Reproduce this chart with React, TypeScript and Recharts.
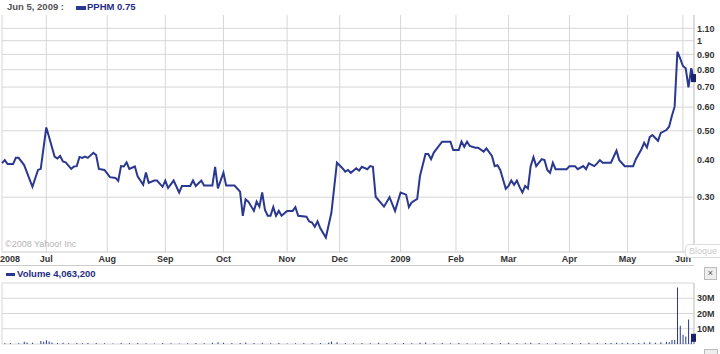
import React from "react";
import {
  LineChart,
  Line,
  BarChart,
  Bar,
  XAxis,
  YAxis,
  CartesianGrid,
  ReferenceLine,
  ReferenceDot,
} from "recharts";

// trading-day index of each month start (first tick is the left edge, labelled with the year)
const monthTicks = [2, 18, 40, 61, 82, 105, 124, 146, 166, 185, 207, 228, 248];
const monthLabels = ["2008", "Jul", "Aug", "Sep", "Oct", "Nov", "Dec", "2009", "Feb", "Mar", "Apr", "May", "Jun"];

const priceTicks = [0.3, 0.4, 0.5, 0.6, 0.7, 0.8, 0.9, 1, 1.1];
const priceGridLevels = [0.3, 0.5, 0.6, 0.7, 0.8, 0.9, 1, 1.1];
const volumeTicks = [0, 10, 20, 30, 40];

const priceDays = [
  2, 3, 4, 6, 7, 8, 10, 13, 15, 16, 18, 19, 21, 22, 23, 24, 25, 27, 28, 29,
  30, 31, 32, 33, 35, 36, 37, 39, 41, 43, 44, 45, 46, 47, 48, 50, 51, 53, 54, 55,
  57, 58, 60, 61, 62, 64, 66, 67, 70, 71, 72, 74, 75, 78, 79, 80, 82, 83, 86, 88,
  89, 90, 91, 93, 94, 95, 96, 97, 98, 99, 100, 101, 102, 103, 105, 107, 108, 109, 112, 113,
  114, 115, 116, 117, 119, 121, 123, 125, 126, 127, 128, 130, 131, 132, 134, 135, 136, 137, 140, 142,
  144, 146, 148, 149, 150, 152, 153, 155, 156, 157, 158, 161, 164, 165, 167, 168, 169, 170, 171, 173,
  174, 176, 177, 179, 180, 181, 182, 184, 185, 186, 187, 188, 189, 190, 191, 192, 193, 194, 195, 197,
  198, 199, 200, 201, 202, 206, 207, 209, 210, 212, 213, 214, 216, 217, 218, 219, 222, 224, 225, 227,
  230, 231, 233, 234, 235, 236, 237, 239, 240, 242, 243, 244, 245, 246, 247, 248, 249, 250, 251, 252,
];
const prices = [
  0.39, 0.399, 0.387, 0.387, 0.406, 0.406, 0.384, 0.325, 0.37, 0.373, 0.513, 0.477, 0.41, 0.404, 0.412, 0.395, 0.392, 0.373, 0.38, 0.381,
  0.409, 0.406, 0.41, 0.406, 0.422, 0.415, 0.373, 0.37, 0.35, 0.348, 0.34, 0.381, 0.38, 0.392, 0.373, 0.38, 0.352, 0.33, 0.363, 0.335,
  0.341, 0.341, 0.325, 0.341, 0.322, 0.341, 0.311, 0.327, 0.327, 0.341, 0.327, 0.341, 0.328, 0.328, 0.379, 0.321, 0.362, 0.328, 0.328, 0.313,
  0.26, 0.295, 0.29, 0.27, 0.29, 0.279, 0.311, 0.272, 0.26, 0.26, 0.278, 0.26, 0.27, 0.26, 0.27, 0.27, 0.278, 0.26, 0.258, 0.249,
  0.247, 0.239, 0.249, 0.236, 0.22, 0.266, 0.391, 0.375, 0.365, 0.37, 0.362, 0.375, 0.368, 0.379, 0.372, 0.381, 0.379, 0.301, 0.279, 0.3,
  0.27, 0.311, 0.306, 0.278, 0.288, 0.296, 0.353, 0.418, 0.418, 0.402, 0.423, 0.46, 0.46, 0.431, 0.431, 0.46, 0.442, 0.46, 0.445, 0.439,
  0.439, 0.426, 0.437, 0.412, 0.381, 0.384, 0.37, 0.32, 0.327, 0.341, 0.33, 0.341, 0.324, 0.311, 0.327, 0.321, 0.381, 0.408, 0.381, 0.402,
  0.399, 0.37, 0.362, 0.391, 0.372, 0.372, 0.381, 0.381, 0.372, 0.381, 0.372, 0.389, 0.381, 0.389, 0.399, 0.391, 0.391, 0.429, 0.399, 0.381,
  0.381, 0.402, 0.434, 0.456, 0.44, 0.476, 0.484, 0.463, 0.492, 0.503, 0.516, 0.56, 0.602, 0.919, 0.873, 0.823, 0.809, 0.699, 0.809, 0.749,
];

// volume in millions of shares
const volumeDays = [
  3, 5, 8, 10, 11, 13, 16, 17, 18, 19, 20, 22, 24, 26, 29, 31, 33, 36, 39, 42,
  45, 48, 51, 54, 57, 60, 63, 66, 69, 72, 75, 78, 80, 82, 85, 88, 90, 93, 96, 99,
  102, 105, 108, 111, 114, 117, 120, 121, 123, 126, 129, 132, 135, 138, 141, 144, 147, 150, 153, 155,
  158, 161, 164, 167, 170, 173, 176, 179, 182, 185, 188, 191, 193, 196, 199, 202, 205, 208, 211, 214,
  217, 220, 222, 224, 226, 228, 230, 232, 234, 236, 238, 240, 242, 243, 244, 245, 246, 247, 248, 249,
  250, 251, 252,
];
const volumes = [
  0.5, 0.6, 0.5, 1.4, 1.0, 0.8, 2.0, 1.5, 2.4, 1.6, 1.0, 0.7, 0.8, 0.5, 0.6, 0.5, 0.7, 0.6, 0.5, 0.4,
  0.7, 0.5, 0.6, 0.5, 0.4, 0.6, 0.5, 0.4, 0.5, 0.6, 0.5, 0.8, 1.2, 0.9, 0.6, 0.7, 1.0, 0.6, 0.8, 0.5,
  0.6, 0.4, 0.5, 0.6, 0.5, 0.6, 1.0, 1.6, 1.1, 0.7, 0.5, 0.6, 0.5, 0.8, 0.6, 0.7, 0.6, 0.5, 0.8, 1.0,
  0.7, 0.6, 0.5, 0.6, 0.5, 0.4, 0.5, 0.7, 0.6, 0.8, 0.6, 0.5, 0.9, 0.6, 0.5, 0.6, 0.5, 0.6, 0.7, 0.8,
  0.6, 0.7, 0.6, 0.9, 0.7, 0.8, 0.6, 0.9, 1.0, 1.2, 0.9, 1.1, 1.5, 1.2, 2.7, 2.7, 37, 12, 6, 4.9,
  16, 2.5, 4.063,
];

const NAVY = "#2a3890";
const GRID = "#d6d6d6";
const FONT = "'Liberation Sans', Arial, sans-serif";

const priceData = priceDays.map((t, i) => ({ t, price: prices[i] }));
const volumeData = volumeDays.map((t, i) => ({ t, vol: volumes[i] }));

const MonthTick = (props: any) => {
  const { x, y, payload } = props;
  const i = monthTicks.indexOf(payload.value);
  const first = i === 0;
  return (
    <text
      x={first ? 0 : x}
      y={y}
      dy={6.4}
      textAnchor={first ? "start" : "middle"}
      fontFamily={FONT}
      fontSize={9}
      fontWeight="bold"
      fill="#333"
    >
      {monthLabels[i]}
    </text>
  );
};

const formatPrice = (v: number) => (v === 1 ? "1" : v.toFixed(2));
const formatVolume = (v: number) => (v === 0 || v === 40 ? "" : `${v}M`);

const Marker = (props: any) => (
  <rect x={props.cx - 3} y={props.cy - 4} width={5} height={8} fill="#1a2270" />
);

export default function App() {
  const tickStyle = { fontFamily: FONT, fontSize: 9, fontWeight: "bold", fill: "#333" };
  return (
    <div
      style={{
        position: "relative",
        width: 720,
        height: 354,
        background: "#fff",
        overflow: "hidden",
        fontFamily: FONT,
      }}
    >
      <style>{"body{margin:0}"}</style>

      <div style={{ position: "absolute", left: 0, top: 0 }}>
        <LineChart
          width={720}
          height={266}
          data={priceData}
          margin={{ top: 15, right: 0, bottom: 0, left: 2 }}
        >
          <CartesianGrid vertical={true} horizontal={false} stroke={GRID} />
          {priceGridLevels.map((v) => (
            <ReferenceLine key={v} y={v} stroke={GRID} />
          ))}
          <XAxis
            type="number"
            dataKey="t"
            domain={[2, 252]}
            ticks={monthTicks}
            interval={0}
            height={14}
            tickSize={0}
            tickMargin={4}
            axisLine={{ stroke: "#ccc" }}
            tick={<MonthTick />}
          />
          <YAxis
            orientation="right"
            scale="log"
            type="number"
            domain={[0.1968, 1.2186]}
            allowDataOverflow
            ticks={priceTicks}
            interval={0}
            tickFormatter={formatPrice}
            width={26}
            tickSize={0}
            tickMargin={3}
            axisLine={{ stroke: "#ccc" }}
            tick={tickStyle}
          />
          <Line
            type="linear"
            dataKey="price"
            stroke={NAVY}
            strokeWidth={2}
            dot={false}
            isAnimationActive={false}
          />
          <ReferenceDot x={252} y={0.75} shape={<Marker />} ifOverflow="visible" />
        </LineChart>
      </div>

      <div style={{ position: "absolute", left: 0, top: 270 }}>
        <BarChart
          width={720}
          height={84}
          data={volumeData}
          margin={{ top: 13, right: 0, bottom: 10, left: 2 }}
        >
          <CartesianGrid vertical={true} horizontal={true} stroke={GRID} />
          <XAxis
            type="number"
            dataKey="t"
            domain={[2, 252]}
            ticks={monthTicks}
            interval={0}
            height={0}
            tick={false}
            tickLine={false}
            axisLine={false}
          />
          <YAxis
            orientation="right"
            type="number"
            domain={[0, 40]}
            ticks={volumeTicks}
            interval={0}
            tickFormatter={formatVolume}
            width={26}
            tickSize={0}
            tickMargin={3}
            axisLine={{ stroke: "#ccc" }}
            tick={tickStyle}
          />
          <Bar dataKey="vol" fill={NAVY} barSize={1} isAnimationActive={false} />
          <ReferenceDot x={252} y={4.063} shape={<Marker />} ifOverflow="visible" />
        </BarChart>
      </div>

      {/* header */}
      <div style={{ position: "absolute", left: 7, top: 1, fontSize: 9.5, fontWeight: "bold", color: "#555", whiteSpace: "nowrap" }}>
        Jun 5, 2009 :
      </div>
      <div style={{ position: "absolute", left: 76, top: 6, width: 10, height: 4, background: NAVY }} />
      <div style={{ position: "absolute", left: 87, top: 1, fontSize: 9.5, fontWeight: "bold", color: "#1f2d86", whiteSpace: "nowrap" }}>
        PPHM 0.75
      </div>

      <div style={{ position: "absolute", left: 5, top: 239, fontSize: 9, color: "#b4b4b4", whiteSpace: "nowrap" }}>
        ©2008 Yahoo! Inc
      </div>

      {/* bottom line of the date band */}
      <div style={{ position: "absolute", left: 0, top: 265, width: 694, height: 1, background: "#ccc" }} />

      {/* volume header */}
      <div style={{ position: "absolute", left: 6, top: 273, width: 9, height: 3, background: NAVY }} />
      <div style={{ position: "absolute", left: 17, top: 268, fontSize: 9.5, fontWeight: "bold", color: "#1f2d86", whiteSpace: "nowrap" }}>
        Volume 4,063,200
      </div>

      {/* leftover widgets on the right edge */}
      <div
        style={{
          position: "absolute",
          left: 685,
          top: 244,
          width: 40,
          height: 12,
          border: "1px solid #ddd",
          borderRadius: 4,
          fontSize: 9,
          color: "#ccc",
          lineHeight: "12px",
          paddingLeft: 3,
          background: "#fff",
        }}
      >
        Bloque
      </div>
      <div
        style={{
          position: "absolute",
          left: 704,
          top: 267,
          width: 11,
          height: 11,
          border: "1px solid #bbb",
          background: "#eee",
          fontSize: 9,
          lineHeight: "10px",
          textAlign: "center",
          color: "#555",
        }}
      >
        ×
      </div>
      <div
        style={{
          position: "absolute",
          left: 704,
          top: 349,
          width: 12,
          height: 10,
          border: "1px solid #bbb",
          background: "#eee",
        }}
      />
    </div>
  );
}
